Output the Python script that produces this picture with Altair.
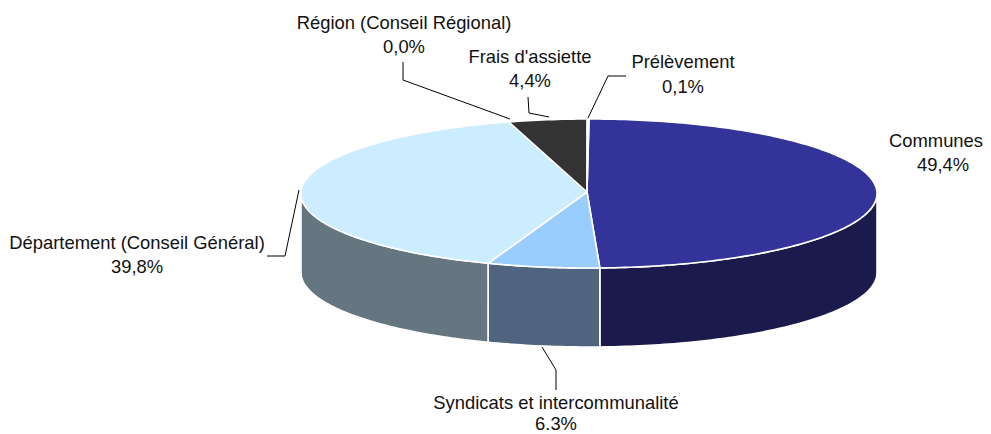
import math
import altair as alt
import pandas as pd

# Data
categories = ["Communes", "Syndicats et intercommunalité", "Département (Conseil Général)",
              "Région (Conseil Régional)", "Frais d'assiette", "Prélèvement"]
values = [49.4, 6.3, 39.8, 0.0, 4.4, 0.1]
value_labels = ["49,4%", "6.3%", "39,8%", "0,0%", "4,4%", "0,1%"]

# Styles
top_colors = ["#333399", "#99CCFF", "#CCECFF", "#FFFFFF", "#333333", "#FFFFFF"]
side_colors = ["#1A1A4D", "#506480", "#667680", "#808080", "#1A1A1A", "#808080"]

# Layout, in page pixels
M = 8
CX, CY, RX, RY = 589.0, 193.5, 288.0, 74.5
AX, AY = 587.0, 192.0
DEPTH = 79.0
label_pos = [(936, 141), (556, 403), (137, 243), (404, 23), (530, 57), (683, 62)]
value_pos = [(943, 165), (556, 424), (137, 267), (404, 47), (530, 81), (683, 87)]
leaders = [
    [(542, 347), (556, 370), (556, 390)],
    [(299, 190), (285, 256), (267, 256)],
    [(403, 62), (403, 80), (510, 119)],
    [(528, 97), (529, 113), (549, 117)],
    [(626, 76), (608, 76), (588, 118)],
]


def pt(deg, dy=0.0):
    a = math.radians(deg)
    return (CX + RX * math.sin(a) - M, CY - RY * math.cos(a) + dy - M)


def arc(a0, a1, dy=0.0):
    n = max(2, int(abs(a1 - a0)) + 2)
    return [pt(a0 + (a1 - a0) * i / (n - 1), dy) for i in range(n)]


def feature(kind, coords, color):
    geom = {"type": kind, "coordinates": coords}
    return {"type": "Feature", "geometry": geom, "properties": {"color": color}}


tops, sides = [], []
start = 0.0
total = sum(values)
for v, tc, sc in zip(values, top_colors, side_colors):
    end = start + 360.0 * v / total
    if v > 0:
        ring = [(AX - M, AY - M)] + arc(start, end)
        ring.append(ring[0])
        tops.append(feature("Polygon", [[list(p) for p in ring]], tc))
        s0, s1 = max(start, 90.0), min(end, 270.0)
        if s1 > s0:
            ring = arc(s0, s1) + arc(s1, s0, DEPTH)
            ring.append(ring[0])
            sides.append(feature("Polygon", [[list(p) for p in ring]], sc))
    start = end

lines = [feature("LineString", [[x - M, y - M] for x, y in l], "#000000") for l in leaders]

proj = dict(type="identity", scale=1, translate=[0, 0])


def shapes(feats, width):
    return alt.Chart(alt.Data(values=feats)).mark_geoshape(
        stroke="#FFFFFF", strokeWidth=width, strokeJoin="round"
    ).encode(fill=alt.Fill("properties.color:N", scale=None, legend=None)).project(**proj)


side_layer = shapes(sides, 1.6)
top_layer = shapes(tops, 1.6)
line_layer = alt.Chart(alt.Data(values=lines)).mark_geoshape(
    filled=False, stroke="#000000", strokeWidth=1
).project(**proj)

rows = []
for c, vl, (x, y), (vx, vy) in zip(categories, value_labels, label_pos, value_pos):
    rows.append({"t": c, "px": x - M, "py": y - M})
    rows.append({"t": vl, "px": vx - M, "py": vy - M})
text_layer = alt.Chart(pd.DataFrame(rows)).mark_text(
    font="Liberation Sans", fontSize=18.4, color="#111111", align="center", baseline="middle"
).encode(
    x=alt.X("px:Q", scale=None, axis=None),
    y=alt.Y("py:Q", scale=None, axis=None),
    text="t:N",
)

chart = alt.layer(side_layer, top_layer, line_layer, text_layer).properties(
    width=975, height=426, padding=0, background="#FFFFFF",
    autosize=alt.AutoSizeParams(type="none"),
).configure_view(stroke=None)

chart.save("out.html", embed_options={"renderer": "svg", "actions": False})
